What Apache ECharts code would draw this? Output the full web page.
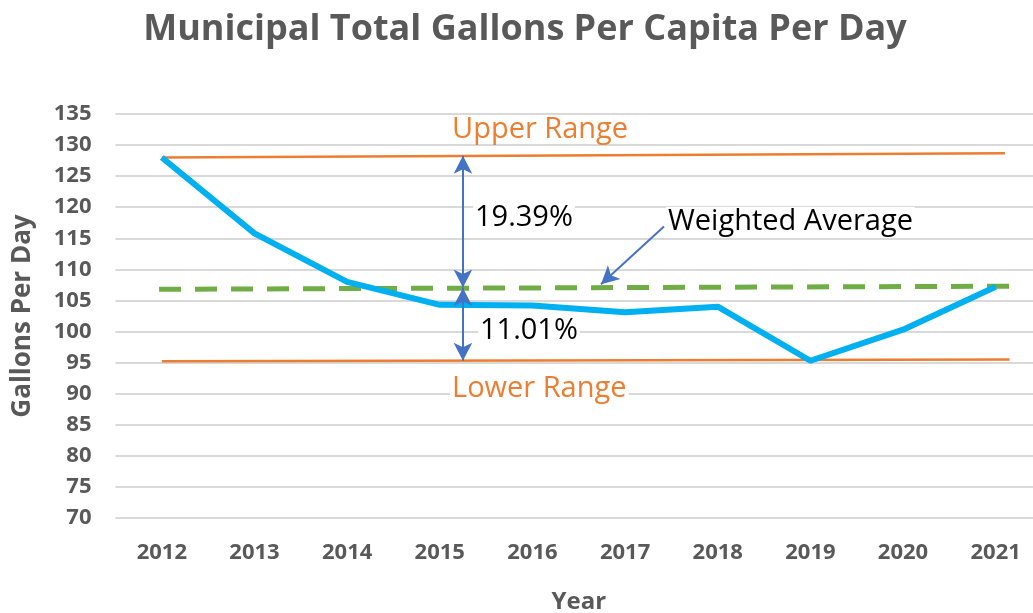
<!DOCTYPE html>
<html><head><meta charset="utf-8">
<script src="https://cdn.jsdelivr.net/npm/echarts@6/dist/echarts.min.js"></script>
<style>html,body{margin:0;padding:0;background:#fff}#c{width:1033px;height:613px}</style>
</head><body><div id="c"></div>
<script>
const years = ['2012','2013','2014','2015','2016','2017','2018','2019','2020','2021'];
const gpcd = [128.0, 115.8, 108.0, 104.3, 104.2, 103.1, 104.0, 95.3, 100.3, 107.2];
const upperRange = [[0, 128.0], [9.1, 128.7]];
const lowerRange = [[0, 95.2], [9.15, 95.5]];
const weightedAvg = [[-0.03, 106.8], [9.15, 107.3]];
const upperArrow = [[3.25, 128.3], [3.25, 107.1]];
const lowerArrow = [[3.25, 107.0], [3.25, 95.3]];
const pointerArrow = [[5.42, 116.9], [4.74, 107.6]];
const yTicks = {min: 70, max: 135, step: 5};

const chart = echarts.init(document.getElementById('c'));
const FONT = '"Open Sans", sans-serif';
const grey = '#595959';
function arrowSeries(pair, symbols){
  return {type:'line', xAxisIndex:1, data:[], silent:true,
    markLine:{silent:true, symbol:symbols, symbolSize:[14,18], animation:false,
      label:{show:false}, lineStyle:{color:'#4472C4', width:2, type:'solid'},
      data:[[{coord:pair[0]},{coord:pair[1]}]]}};
}
function txt(left, top, text, color){
  return {type:'text', left:left, top:top, z:10,
    style:{text:text, fontFamily:FONT, fontSize:29, fill:color, backgroundColor:'#fff', padding:[0,2]}};
}
chart.setOption({
  animation:false,
  title:{text:'Municipal Total Gallons Per Capita Per Day', left:520, top:7, textAlign:'center',
    textStyle:{fontFamily:FONT, fontWeight:'bold', fontSize:36, color:grey}},
  grid:{left:115.5, right:-9, top:114, bottom:95, containLabel:false, outerBoundsMode:'none'},
  xAxis:[
    {type:'category', data:years, boundaryGap:true,
     axisLine:{show:false}, axisTick:{show:false},
     axisLabel:{fontFamily:FONT, fontWeight:'bold', fontSize:22, color:grey, margin:24},
     name:'Year', nameLocation:'middle', nameGap:72,
     nameTextStyle:{fontFamily:FONT, fontWeight:'bold', fontSize:24, color:grey}},
    {type:'value', min:-0.5, max:9.5, show:false}
  ],
  yAxis:{type:'value', min:yTicks.min, max:yTicks.max, interval:yTicks.step,
    axisLine:{show:false}, axisTick:{show:false},
    splitLine:{lineStyle:{color:'#d9d9d9', width:2}},
    axisLabel:{fontFamily:FONT, fontWeight:'bold', fontSize:22, color:grey, margin:24},
    name:'Gallons Per Day', nameLocation:'middle', nameGap:80, nameRotate:90,
    nameTextStyle:{fontFamily:FONT, fontWeight:'bold', fontSize:26, color:grey}},
  series:[
    {type:'line', xAxisIndex:1, data:upperRange, symbol:'none', lineStyle:{color:'#ED7D31', width:2.5}},
    {type:'line', xAxisIndex:1, data:lowerRange, symbol:'none', lineStyle:{color:'#ED7D31', width:2.5}},
    {type:'line', xAxisIndex:1, data:weightedAvg, symbol:'none', lineStyle:{color:'#70AD47', width:5, type:[22,14]}},
    {type:'line', xAxisIndex:0, data:gpcd, symbol:'none', lineStyle:{color:'#00B0F0', width:6}, z:3},
    arrowSeries(upperArrow, ['arrow','arrow']),
    arrowSeries(lowerArrow, ['arrow','arrow']),
    arrowSeries(pointerArrow, ['none','arrow'])
  ],
  graphic:[
    txt(450, 115, 'Upper Range', '#ED7D31'),
    txt(450, 374, 'Lower Range', '#ED7D31'),
    txt(473, 203, '19.39%', '#000'),
    txt(478, 316, '11.01%', '#000'),
    txt(666, 207, 'Weighted Average', '#000')
  ]
});
</script></body></html>
